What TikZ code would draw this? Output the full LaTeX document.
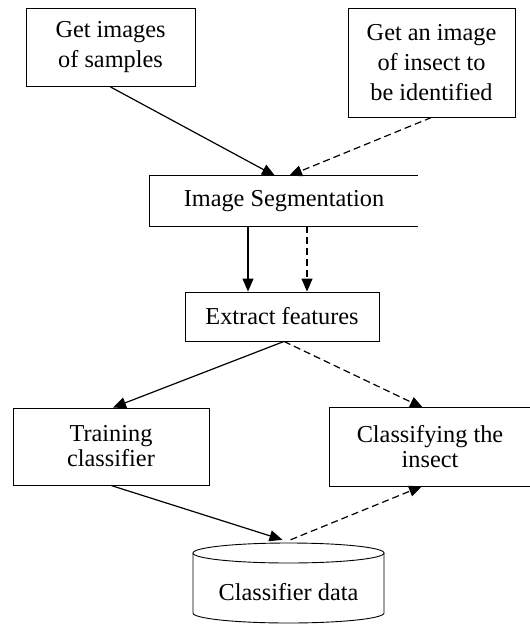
\documentclass[tikz,border=0pt]{standalone}
\usepackage{fontspec}
\setmainfont{Liberation Serif}
\usetikzlibrary{arrows.meta}
\begin{document}
\begin{tikzpicture}[x=1pt,y=-1pt,
  box/.style={draw, line width=0.9pt, rectangle, align=center, inner sep=0pt,
    font=\fontsize{24.3}{30}\selectfont},
  openbox/.style={rectangle, align=center, inner sep=0pt,
    font=\fontsize{24.3}{25}\selectfont},
  flow/.style={line width=1.2pt, -{Triangle[length=13pt,width=11pt]}},
  dflow/.style={flow, dash pattern=on 7pt off 4pt}]
\useasboundingbox (0,0) rectangle (530,624);
\node[box, minimum width=169pt, minimum height=78pt] (b1) at (110.5,47.5) {Get images\\of samples};
\node[box, minimum width=167pt, minimum height=109pt] (b2) at (431.5,62.5) {Get an image\\of insect to\\be identified};
\node[openbox, font=\fontsize{24.3}{30}\selectfont, minimum width=268pt, minimum height=50pt] (seg) at (284,201) {Image Segmentation};
\draw[line width=0.9pt] (seg.north east) -- (seg.north west) -- (seg.south west) -- (seg.south east);
\node[box, minimum width=194pt, minimum height=49pt] (ext) at (282,316.5) {Extract features};
\node[box, font=\fontsize{24.3}{25}\selectfont, minimum width=196pt, minimum height=77pt] (tr) at (111,446.5) {Training\\classifier};
\node[openbox, minimum width=200pt, minimum height=78pt] (cl) at (430,447) {Classifying the\\insect};
\draw[line width=0.9pt] ([xshift=4pt]cl.north east) -- (cl.north west) -- (cl.south west) -- ([xshift=4pt]cl.south east);
% cylinder
\node[rectangle, minimum width=191pt, minimum height=80pt, inner sep=0pt] (cyl) at (288.5,583) {};
\draw[line width=0.9pt] (288.5,553) ellipse [x radius=95.5, y radius=10];
\draw[line width=0.9pt] (193,553) -- (193,613) arc[start angle=180, end angle=0, x radius=95.5, y radius=10] -- (384,553);
\node[font=\fontsize{24.3}{30}\selectfont] (cyltext) at (288.5,592) {Classifier data};
% connectors
\draw[flow] (b1.south) -- ([xshift=-9pt]seg.north);
\draw[dflow] (b2.south) -- ([xshift=5pt]seg.north);
\draw[flow] ([xshift=-36pt]seg.south) -- ([xshift=-36pt]seg.south |- ext.north);
\draw[dflow] ([xshift=23pt]seg.south) -- ([xshift=23pt]seg.south |- ext.north);
\draw[flow] ([xshift=2pt]ext.south) -- ([xshift=2pt]tr.north);
\draw[dflow] ([xshift=2pt]ext.south) -- ([xshift=-7pt]cl.north);
\draw[flow] (tr.south) -- ([xshift=-6pt,yshift=3pt]cyl.north);
\draw[dflow] ([xshift=2pt,yshift=3pt]cyl.north) -- ([xshift=-8pt]cl.south);
\end{tikzpicture}
\end{document}
